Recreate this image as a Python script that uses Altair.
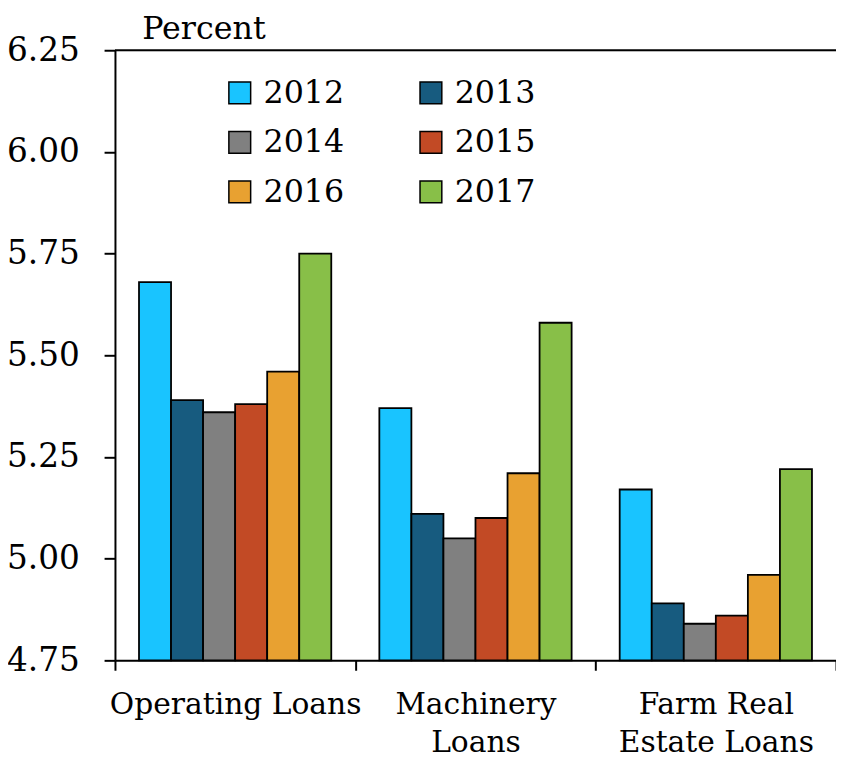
import altair as alt
import pandas as pd

categories = ["Operating Loans", "Machinery Loans", "Farm Real Estate Loans"]
years = ["2012", "2013", "2014", "2015", "2016", "2017"]
operating = [5.68, 5.39, 5.36, 5.38, 5.46, 5.75]
machinery = [5.37, 5.11, 5.05, 5.10, 5.21, 5.58]
farm_real_estate = [5.17, 4.89, 4.84, 4.86, 4.96, 5.22]
colors = ["#19C4FF", "#175B7F", "#808080", "#C24A25", "#E8A131", "#88BF48"]
y_ticks = [4.75, 5.00, 5.25, 5.50, 5.75, 6.00, 6.25]

rows = []
for cat, vals in zip(categories, [operating, machinery, farm_real_estate]):
    for yr, v in zip(years, vals):
        rows.append({"loan": cat, "year": yr, "rate": v})
df = pd.DataFrame(rows)

FONT = "DejaVu Serif"

label_expr = ("datum.value == 'Machinery Loans' ? ['Machinery', 'Loans'] : "
              "datum.value == 'Farm Real Estate Loans' ? ['Farm Real', 'Estate Loans'] : datum.value")

bars = alt.Chart(df).mark_bar(stroke="black", strokeWidth=1.8).encode(
    x=alt.X("loan:N", sort=categories,
            scale=alt.Scale(paddingInner=0, paddingOuter=0),
            axis=alt.Axis(title=None, labelAngle=0, labelExpr=label_expr, labelLimit=0,
                          tickBand="extent", tickSize=10, tickWidth=2, tickColor="black",
                          domainColor="black", domainWidth=2,
                          labelFont=FONT, labelFontSize=30, labelColor="black",
                          labelPadding=20, labelLineHeight=38, labelBaseline="top")),
    xOffset=alt.XOffset("year:N", sort=years,
                        scale=alt.Scale(paddingInner=0, paddingOuter=0.75)),
    y=alt.Y("rate:Q",
            scale=alt.Scale(domain=[4.75, 6.25], zero=False, nice=False),
            axis=alt.Axis(values=y_ticks, format=".2f", grid=False,
                          tickSize=11, tickWidth=2, tickColor="black",
                          domainColor="black", domainWidth=2,
                          labelFont=FONT, labelFontSize=33, labelColor="black",
                          labelPadding=25, labelLimit=0,
                          title="Percent", titleAngle=0, titleAlign="left",
                          titleBaseline="alphabetic", titleX=27, titleY=-12,
                          titleFont=FONT, titleFontSize=32, titleFontWeight="normal",
                          titleColor="black", titleLimit=0)),
    y2=alt.datum(4.75),
    color=alt.Color("year:N", sort=years,
                    scale=alt.Scale(domain=years, range=colors),
                    legend=alt.Legend(title=None, orient="none", legendX=110, legendY=27,
                                      direction="horizontal",
                                      columns=2, columnPadding=71, rowPadding=18,
                                      symbolType="square", symbolSize=484,
                                      symbolStrokeColor="black", symbolStrokeWidth=1.5,
                                      labelFont=FONT, labelFontSize=32, labelColor="black",
                                      labelOffset=8, labelLimit=0)),
)

top_rule = alt.Chart(pd.DataFrame({"v": [6.25]})).mark_rule(color="black", strokeWidth=2).encode(
    y=alt.Y("v:Q")
)

chart = alt.layer(bars, top_rule).properties(
    width=728, height=616,
    autosize=alt.AutoSizeParams(type="none"),
    padding={"left": 108, "top": 39, "right": 0, "bottom": 100},
).configure_view(stroke=None).configure(font=FONT)

chart.save("out.html", embed_options={"renderer": "svg", "actions": False})
